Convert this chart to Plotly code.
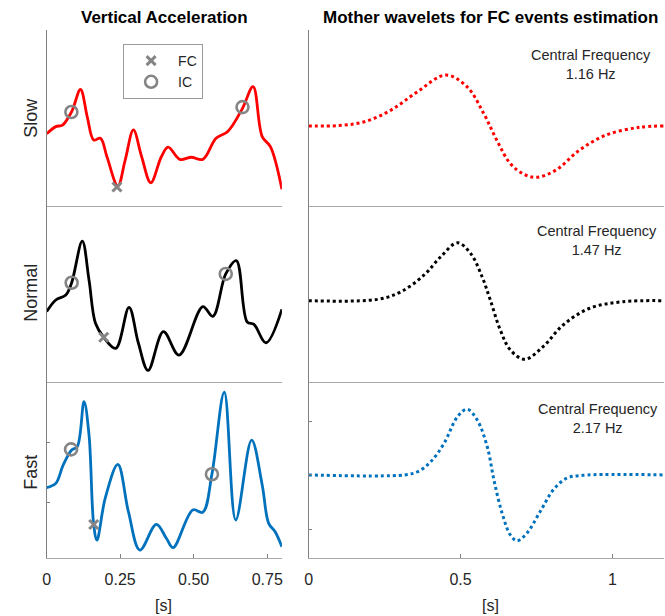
import plotly.graph_objects as go

# ---------------- data ----------------
# Vertical acceleration (normalised units), time in s
t_slow = [0.000, 0.031, 0.054, 0.085, 0.115, 0.138, 0.160, 0.183, 0.205, 0.242, 0.267, 0.295, 0.323,
          0.354, 0.390, 0.413, 0.453, 0.492, 0.531, 0.576, 0.615, 0.666, 0.702, 0.733, 0.761, 0.800]
v_slow = [0.410, 0.451, 0.460, 0.536, 0.662, 0.507, 0.375, 0.385, 0.280, 0.114, 0.261, 0.432, 0.280,
          0.132, 0.280, 0.334, 0.265, 0.277, 0.265, 0.385, 0.422, 0.555, 0.678, 0.394, 0.337, 0.095]

t_normal = [0.000, 0.031, 0.065, 0.085, 0.121, 0.144, 0.166, 0.194, 0.235, 0.280, 0.312, 0.345, 0.397,
            0.450, 0.531, 0.565, 0.609, 0.645, 0.682, 0.705, 0.746, 0.800]
v_normal = [0.400, 0.466, 0.494, 0.564, 0.800, 0.580, 0.334, 0.254, 0.191, 0.424, 0.220, 0.066, 0.286,
            0.153, 0.428, 0.373, 0.614, 0.690, 0.341, 0.327, 0.223, 0.413]

t_fast = [0.000, 0.031, 0.056, 0.085, 0.104, 0.127, 0.144, 0.160, 0.171, 0.199, 0.242, 0.278, 0.317,
          0.373, 0.407, 0.430, 0.497, 0.531, 0.562, 0.604, 0.643, 0.697, 0.733, 0.755, 0.777, 0.800]
v_fast = [0.400, 0.424, 0.528, 0.614, 0.632, 0.888, 0.699, 0.188, 0.102, 0.339, 0.532, 0.263, 0.045,
          0.191, 0.112, 0.059, 0.273, 0.260, 0.476, 0.942, 0.216, 0.670, 0.415, 0.197, 0.149, 0.064]

# Gait events (FC = final contact, IC = initial contact)
fc_slow_t, fc_slow_v = [0.239], [0.108]
ic_slow_t, ic_slow_v = [0.084, 0.666], [0.534, 0.562]
fc_normal_t, fc_normal_v = [0.194], [0.254]
ic_normal_t, ic_normal_v = [0.085, 0.609], [0.564, 0.614]
fc_fast_t, fc_fast_v = [0.160], [0.190]
ic_fast_t, ic_fast_v = [0.083, 0.562], [0.617, 0.476]

# Mother wavelets
tw_slow = [0.000, 0.100, 0.184, 0.271, 0.358, 0.451, 0.521, 0.576, 0.619, 0.663, 0.707, 0.750, 0.815,
           0.892, 0.979, 1.088, 1.170]
w_slow = [0.455, 0.457, 0.479, 0.545, 0.649, 0.744, 0.678, 0.527, 0.375, 0.243, 0.182, 0.163, 0.205,
          0.318, 0.403, 0.447, 0.455]

tw_normal = [0.000, 0.229, 0.304, 0.380, 0.435, 0.490, 0.533, 0.571, 0.598, 0.631, 0.664, 0.712, 0.772,
             0.838, 0.925, 1.034, 1.170]
w_normal = [0.462, 0.470, 0.513, 0.608, 0.712, 0.791, 0.731, 0.598, 0.466, 0.295, 0.182, 0.129, 0.201,
            0.324, 0.419, 0.456, 0.462]

tw_fast = [0.000, 0.315, 0.359, 0.402, 0.446, 0.490, 0.522, 0.555, 0.588, 0.610, 0.637, 0.664, 0.686,
           0.718, 0.762, 0.805, 0.849, 0.903, 1.170]
w_fast = [0.472, 0.472, 0.490, 0.547, 0.652, 0.803, 0.845, 0.784, 0.632, 0.443, 0.254, 0.131, 0.098,
          0.140, 0.263, 0.386, 0.453, 0.470, 0.472]

row_names = ["Slow", "Normal", "Fast"]
freq_labels = ["1.16 Hz", "1.47 Hz", "2.17 Hz"]
left_ticks = [0, 0.25, 0.5, 0.75]
left_ticktext = ["0", "0.25", "0.50", "0.75"]
right_ticks = [0, 0.5, 1]
right_ticktext = ["0", "0.5", "1"]

# ---------------- figure ----------------
RED, BLACK, BLUE, GRAY = "#ff0000", "#000000", "#0072bd", "#858585"
FONT = "Arial, Liberation Sans, sans-serif"

fig = go.Figure()

def refs(i):
    return ("x" if i == 1 else f"x{i}", "y" if i == 1 else f"y{i}")

signals = [(t_slow, v_slow, RED), (t_normal, v_normal, BLACK), (t_fast, v_fast, BLUE)]
events = [(fc_slow_t, fc_slow_v, ic_slow_t, ic_slow_v),
          (fc_normal_t, fc_normal_v, ic_normal_t, ic_normal_v),
          (fc_fast_t, fc_fast_v, ic_fast_t, ic_fast_v)]
wavelets = [(tw_slow, w_slow, RED), (tw_normal, w_normal, BLACK), (tw_fast, w_fast, BLUE)]

for r in range(3):
    xl, yl = refs(2 * r + 1)
    xr, yr = refs(2 * r + 2)
    t, v, c = signals[r]
    fig.add_trace(go.Scatter(x=t, y=v, mode="lines", line=dict(color=c, width=2.8, shape="spline", smoothing=1.0),
                             xaxis=xl, yaxis=yl, showlegend=False, hoverinfo="skip"))
    fct, fcv, ict, icv = events[r]
    fig.add_trace(go.Scatter(x=fct, y=fcv, mode="markers", name="FC",
                             marker=dict(symbol="x-thin", size=9, color=GRAY, line=dict(color=GRAY, width=3)),
                             xaxis=xl, yaxis=yl, showlegend=(r == 0)))
    fig.add_trace(go.Scatter(x=ict, y=icv, mode="markers", name="IC",
                             marker=dict(symbol="circle-open", size=12, color=GRAY, line=dict(color=GRAY, width=2.6)),
                             xaxis=xl, yaxis=yl, showlegend=(r == 0)))
    tw, w, c = wavelets[r]
    fig.add_trace(go.Scatter(x=tw, y=w, mode="lines", line=dict(color=c, width=3, dash="dot", shape="spline"),
                             xaxis=xr, yaxis=yr, showlegend=False, hoverinfo="skip"))

W, H = 665, 616
xdom_left = [43 / W, 280 / W]
xdom_right = [307 / W, 1.0]
ydoms = [[1 - 206 / H, 1 - 30 / H], [1 - 382 / H, 1 - 206 / H], [1 - 558 / H, 1 - 382 / H]]

layout = dict(
    width=W, height=H, margin=dict(l=0, r=0, t=0, b=0),
    paper_bgcolor="white", plot_bgcolor="white",
    font=dict(family=FONT, color="#262626"),
    legend=dict(x=120 / W, y=1 - 44 / H, xanchor="left", yanchor="top",
                bordercolor="#9a9a9a", borderwidth=1, bgcolor="white",
                font=dict(size=14, family=FONT, color="#262626"), itemwidth=44,
                tracegroupgap=0),
)

for r in range(3):
    for c in range(2):
        i = 2 * r + c + 1
        xkey = "xaxis" if i == 1 else f"xaxis{i}"
        ykey = "yaxis" if i == 1 else f"yaxis{i}"
        ysuffix = "" if i == 1 else str(i)
        xsuffix = "" if i == 1 else str(i)
        last = (r == 2)
        if c == 0:
            xr_, tv, tt, dom = [0, 0.8], left_ticks, left_ticktext, xdom_left
        else:
            xr_, tv, tt, dom = [0, 1.17], right_ticks, right_ticktext, xdom_right
        layout[xkey] = dict(domain=dom, range=xr_, anchor="y" + ysuffix,
                            showline=True, linecolor="#a8a8a8", linewidth=1.2,
                            showgrid=False, zeroline=False,
                            ticks="inside" if last else "", ticklen=4, tickcolor="#808080",
                            tickvals=tv if last else [], ticktext=tt if last else [],
                            ticklabelstandoff=7,
                            showticklabels=last, tickfont=dict(size=16, family=FONT, color="#262626"))
        if last:
            yt = [0.316, 0.657] if c == 0 else [0.163, 0.472, 0.774]
        else:
            yt = []
        layout[ykey] = dict(domain=ydoms[r], range=[0, 1], anchor="x" + xsuffix,
                            showline=True, linecolor="#808080", linewidth=1.2,
                            showgrid=False, zeroline=False,
                            ticks="inside" if last else "", ticklen=3, tickcolor="#808080",
                            tickvals=yt, showticklabels=False)

fig.update_layout(**layout)

ann = []
ann.append(dict(text="<b>Vertical Acceleration</b>", x=162 / W, y=1 - 17 / H, xref="paper", yref="paper",
                showarrow=False, font=dict(size=17, family=FONT, color="black"), xanchor="center", yanchor="middle"))
ann.append(dict(text="<b>Mother wavelets for FC events estimation</b>", x=490 / W, y=1 - 17 / H,
                xref="paper", yref="paper", showarrow=False,
                font=dict(size=17, family=FONT, color="black"), xanchor="center", yanchor="middle"))
row_centers = [118, 293, 472]
cf_x = [591, 597, 598]
cf_y = [64, 241, 418]
for r in range(3):
    ann.append(dict(text=row_names[r], x=27 / W, y=1 - row_centers[r] / H, xref="paper", yref="paper",
                    showarrow=False, textangle=-90, font=dict(size=18, family=FONT, color="#262626"),
                    xanchor="center", yanchor="middle"))
    ann.append(dict(text="Central Frequency<br>" + freq_labels[r], x=cf_x[r] / W, y=1 - cf_y[r] / H,
                    xref="paper", yref="paper", showarrow=False, align="center",
                    font=dict(size=14.5, family=FONT, color="#262626"), xanchor="center", yanchor="middle"))
ann.append(dict(text="[s]", x=161 / W, y=1 - 605 / H, xref="paper", yref="paper", showarrow=False,
                font=dict(size=16, family=FONT, color="#262626"), xanchor="center", yanchor="middle"))
ann.append(dict(text="[s]", x=490 / W, y=1 - 605 / H, xref="paper", yref="paper", showarrow=False,
                font=dict(size=16, family=FONT, color="#262626"), xanchor="center", yanchor="middle"))
fig.update_layout(annotations=ann)

fig.write_html("out.html")
